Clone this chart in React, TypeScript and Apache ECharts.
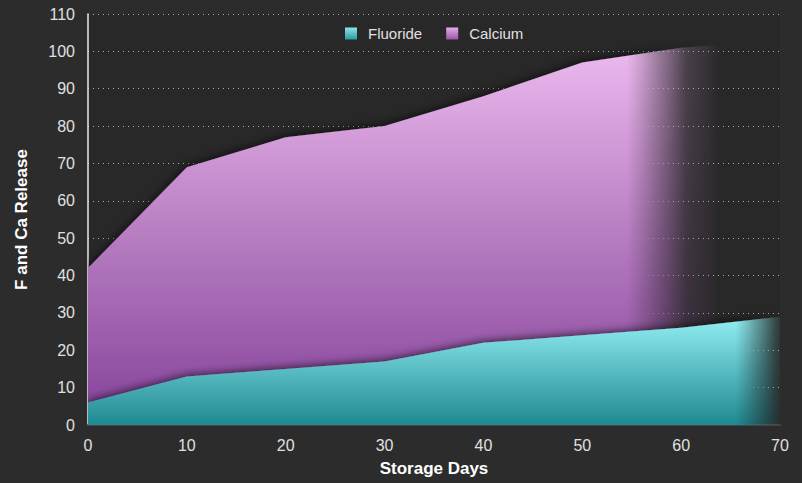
import React, { useEffect, useRef } from 'react';
import * as echarts from 'echarts';

const days = [0, 10, 20, 30, 40, 50, 60, 70];
const fluoride = [6, 13, 15, 17, 22, 24, 26, 29];
const calcium = [42, 69, 77, 80, 88, 97, 101, 103];
const seriesNames = ['Fluoride', 'Calcium'];

const FONT = "'Helvetica Neue', Helvetica, 'Liberation Sans', Arial, sans-serif";
const W = 802;
const H = 483;

const calciumStops: [number, string][] = [
  [0, '#ecb9ef'],
  [0.5, '#b77cc1'],
  [1, '#84429a'],
];
const fluorideStops: [number, string][] = [
  [0, '#92eff3'],
  [1, '#1f8991'],
];

function makeFill(
  chart: any,
  values: number[],
  topVal: number,
  stops: [number, string][],
  fadeFrom: number,
  fadeTo: number,
  tail: number
) {
  const toPx = (x: number, y: number) => chart.convertToPixel({ gridIndex: 0 }, [x, y]);
  // pattern origin is the top-left corner of the area's bounding box
  const maxVal = Math.max(...values);
  const bx = toPx(days[0], maxVal)[0];
  const by = toPx(days[0], maxVal)[1];
  const canvas = document.createElement('canvas');
  canvas.width = W;
  canvas.height = H;
  const ctx = canvas.getContext('2d') as CanvasRenderingContext2D;
  ctx.translate(-bx, -by);
  const pTop = toPx(0, topVal);
  const pBot = toPx(0, 0);
  const vg = ctx.createLinearGradient(0, pTop[1], 0, pBot[1]);
  stops.forEach(([o, c]) => vg.addColorStop(o, c));
  ctx.fillStyle = vg;
  ctx.fillRect(0, 0, W + bx, H + by);
  const xa = toPx(fadeFrom, 0)[0];
  const xb = toPx(fadeTo, 0)[0];
  const xc = toPx(tail, 0)[0];
  const hg = ctx.createLinearGradient(xa, 0, xc, 0);
  const mid = (xb - xa) / (xc - xa);
  hg.addColorStop(0, 'rgba(0,0,0,1)');
  hg.addColorStop(mid * 0.5, 'rgba(0,0,0,0.55)');
  hg.addColorStop(mid, 'rgba(0,0,0,0.14)');
  hg.addColorStop(1, 'rgba(0,0,0,0)');
  ctx.globalCompositeOperation = 'destination-in';
  ctx.fillStyle = hg;
  ctx.fillRect(0, 0, W + bx, H + by);
  return {
    image: canvas.toDataURL(),
    repeat: 'no-repeat',
    imageWidth: W,
    imageHeight: H,
  };
}

function grad(stops: [number, string][]) {
  return new echarts.graphic.LinearGradient(
    0, 0, 0, 1,
    stops.map(([offset, color]) => ({ offset, color }))
  );
}

export default function App() {
  const ref = useRef<HTMLDivElement>(null);
  useEffect(() => {
    if (!ref.current) return;
    const chart = echarts.init(ref.current, null, { renderer: 'svg' });
    const shadow = {
      shadowBlur: 10,
      shadowColor: 'rgba(0,0,0,0.7)',
      shadowOffsetY: -1,
    };
    const option: any = {
      animation: false,
      backgroundColor: '#2c2c2c',
      textStyle: { fontFamily: FONT },
      grid: {
        left: 88,
        right: 22,
        top: 14,
        bottom: 58,
        show: true,
        backgroundColor: '#282828',
        borderWidth: 0,
      },
      legend: {
        left: 340,
        top: 21,
        icon: 'rect',
        itemWidth: 12,
        itemHeight: 12,
        itemGap: 24,
        textStyle: { color: '#e0e0e0', fontSize: 15, fontFamily: FONT, padding: [0, 0, 0, 6] },
        data: [
          { name: seriesNames[0], itemStyle: { color: grad([[0, '#8ee6ea'], [1, '#2a9ca2']]) } },
          { name: seriesNames[1], itemStyle: { color: grad([[0, '#e3aee6'], [1, '#9a55a8']]) } },
        ],
      },
      xAxis: {
        type: 'value',
        min: 0,
        max: 70,
        interval: 10,
        name: 'Storage Days',
        nameLocation: 'middle',
        nameGap: 35,
        nameTextStyle: { color: '#ffffff', fontSize: 17, fontWeight: 'bold', fontFamily: FONT },
        axisLine: { show: true, lineStyle: { color: '#444', width: 2 } },
        axisTick: { show: false },
        splitLine: { show: false },
        axisLabel: { color: '#e0e0e0', fontSize: 16, margin: 12, fontFamily: FONT },
      },
      yAxis: {
        type: 'value',
        min: 0,
        max: 110,
        interval: 10,
        name: 'F and Ca Release',
        nameLocation: 'middle',
        nameGap: 58,
        nameTextStyle: { color: '#ffffff', fontSize: 17, fontWeight: 'bold', fontFamily: FONT },
        axisLine: { show: true, lineStyle: { color: '#e8e8e8', width: 1.5 } },
        axisTick: { show: false },
        splitLine: { show: true, lineStyle: { color: '#b0b0b0', width: 1, type: [1, 4] } },
        axisLabel: { color: '#e0e0e0', fontSize: 16, margin: 13, fontFamily: FONT },
      },
      series: [
        {
          name: seriesNames[1],
          type: 'line',
          data: days.map((d, i) => [d, calcium[i]]),
          symbol: 'none',
          lineStyle: { width: 0 },
          itemStyle: { color: '#b77cc1' },
          areaStyle: { color: '#b77cc1', opacity: 1, ...shadow },
          z: 2,
        },
        {
          name: seriesNames[0],
          type: 'line',
          data: days.map((d, i) => [d, fluoride[i]]),
          symbol: 'none',
          lineStyle: { width: 0 },
          itemStyle: { color: '#4fbfc4' },
          areaStyle: { color: '#4fbfc4', opacity: 1, ...shadow },
          z: 3,
        },
      ],
    };
    chart.setOption(option);
    const calFill = makeFill(chart, calcium, 101, calciumStops, 54.5, 60.5, 64);
    const fluFill = makeFill(chart, fluoride, 29, fluorideStops, 65.5, 69.5, 70.5);
    chart.setOption({
      series: [
        { name: seriesNames[1], areaStyle: { color: calFill } },
        { name: seriesNames[0], areaStyle: { color: fluFill } },
      ],
    });
    return () => chart.dispose();
  }, []);
  return (
    <div
      ref={ref}
      style={{ position: 'absolute', left: 0, top: 0, width: W, height: H }}
    />
  );
}
